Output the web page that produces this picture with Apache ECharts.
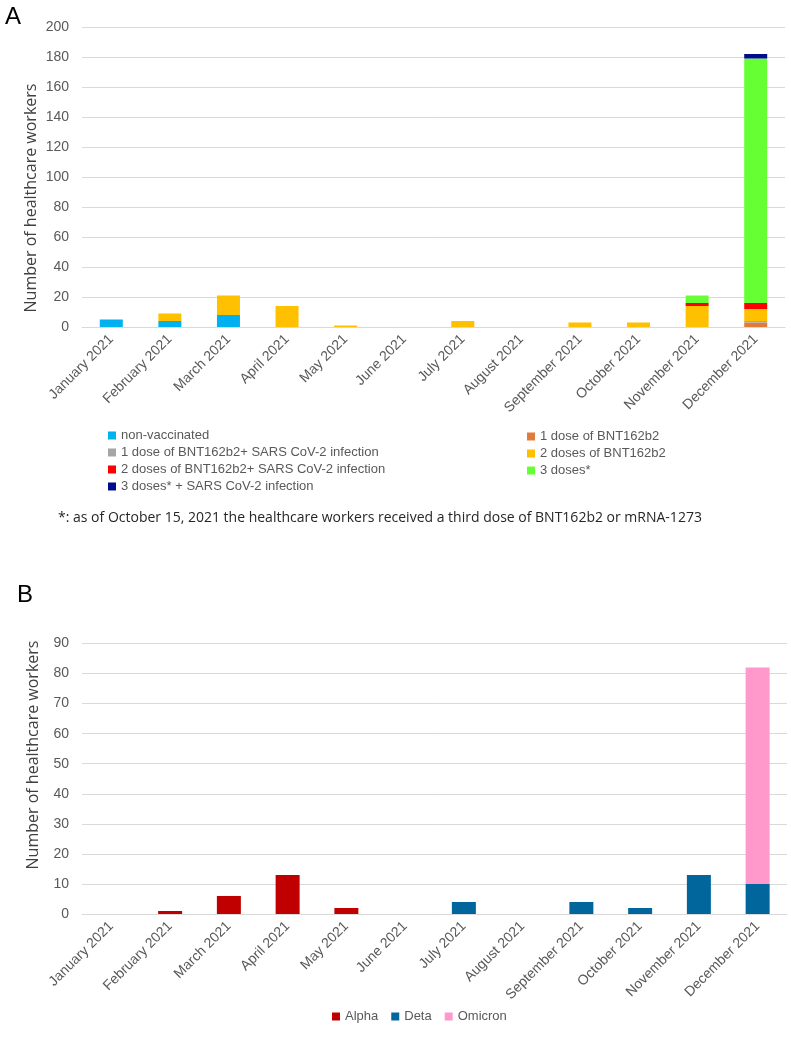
<!DOCTYPE html>
<html>
<head>
<meta charset="utf-8">
<title>Healthcare workers infections 2021</title>
<style>
  html, body { margin: 0; padding: 0; background: #fff; }
  #chart { width: 791px; height: 1039px; }
</style>
</head>
<body>
<div id="chart"></div>
<script src="https://cdn.jsdelivr.net/npm/echarts@6/dist/echarts.min.js"></script>
<script>
// months on both x axes
var months = ['January 2021', 'February 2021', 'March 2021', 'April 2021', 'May 2021', 'June 2021',
              'July 2021', 'August 2021', 'September 2021', 'October 2021', 'November 2021', 'December 2021'];

// panel A - vaccination status
var nonVaccinated   = [5, 4, 8, 0, 0, 0, 0, 0, 0, 0, 0, 0];
var oneDose         = [0, 0, 0, 0, 0, 0, 0, 0, 0, 0, 0, 3];
var oneDoseInf      = [0, 0, 0, 0, 0, 0, 0, 0, 0, 0, 0, 1];
var twoDoses        = [0, 5, 13, 14, 1, 0, 4, 0, 3, 3, 14, 8];
var twoDosesInf     = [0, 0, 0, 0, 0, 0, 0, 0, 0, 0, 2, 4];
var threeDoses      = [0, 0, 0, 0, 0, 0, 0, 0, 0, 0, 5, 163];
var threeDosesInf   = [0, 0, 0, 0, 0, 0, 0, 0, 0, 0, 0, 3];

// panel B - variants
var alpha   = [0, 1, 6, 13, 2, 0, 0, 0, 0, 0, 0, 0];
var deta    = [0, 0, 0, 0, 0, 0, 4, 0, 4, 2, 13, 10];
var omicron = [0, 0, 0, 0, 0, 0, 0, 0, 0, 0, 0, 72];

var namesA = ['non-vaccinated', '1 dose of BNT162b2', '1 dose of BNT162b2+ SARS CoV-2 infection',
              '2 doses of BNT162b2', '2 doses of BNT162b2+ SARS CoV-2 infection', '3 doses*',
              '3 doses* + SARS CoV-2 infection'];
var dataA = [nonVaccinated, oneDose, oneDoseInf, twoDoses, twoDosesInf, threeDoses, threeDosesInf];
var colorsA = ['#00B0F0', '#E07B3C', '#A5A5A5', '#FFC000', '#FF0000', '#66FF33', '#000C8C'];

var namesB = ['Alpha', 'Deta', 'Omicron'];
var dataB = [alpha, deta, omicron];
var colorsB = ['#C00000', '#00669B', '#FF99CC'];

var gridColor = '#d9d9d9';
var labelColor = '#595959';
var tickFont = 'Liberation Sans, sans-serif';

function xAxisFor(idx) {
    return {
        type: 'category',
        gridIndex: idx,
        data: months,
        axisTick: { show: false },
        axisLine: { lineStyle: { color: gridColor, width: 1 } },
        axisLabel: {
            interval: 0, rotate: 45, margin: 10,
            color: labelColor, fontSize: 14, fontFamily: tickFont
        }
    };
}
function yAxisFor(idx, max, step) {
    return {
        type: 'value',
        gridIndex: idx,
        min: 0, max: max, interval: step,
        axisLine: { show: false },
        axisTick: { show: false },
        splitLine: { lineStyle: { color: gridColor, width: 1 } },
        axisLabel: { color: labelColor, fontSize: 14, fontFamily: tickFont, margin: 13 }
    };
}

var series = [];
namesA.forEach(function (n, i) {
    series.push({
        name: n, type: 'bar', stack: 'a', xAxisIndex: 0, yAxisIndex: 0,
        barWidth: 23, itemStyle: { color: colorsA[i] }, data: dataA[i]
    });
});
namesB.forEach(function (n, i) {
    series.push({
        name: n, type: 'bar', stack: 'b', xAxisIndex: 1, yAxisIndex: 1,
        barWidth: 24, itemStyle: { color: colorsB[i] }, data: dataB[i]
    });
});

var legendText = { color: labelColor, fontSize: 13, fontFamily: tickFont, lineHeight: 12 };

var option = {
    animation: false,
    grid: [
        { left: 82, right: 6, top: 27, height: 300 },
        { left: 82, right: 4, top: 643.5, height: 270.5 }
    ],
    xAxis: [xAxisFor(0), xAxisFor(1)],
    yAxis: [yAxisFor(0, 200, 20), yAxisFor(1, 90, 10)],
    legend: [
        {
            orient: 'vertical', left: 103, top: 424, itemGap: 4,
            itemWidth: 8, itemHeight: 8, icon: 'rect', selectedMode: false,
            textStyle: legendText,
            data: [namesA[0], namesA[2], namesA[4], namesA[6]]
        },
        {
            orient: 'vertical', left: 522, top: 425, itemGap: 4,
            itemWidth: 8, itemHeight: 8, icon: 'rect', selectedMode: false,
            textStyle: legendText,
            data: [namesA[1], namesA[3], namesA[5]]
        },
        {
            orient: 'horizontal', left: 327, top: 1005, itemGap: 13,
            itemWidth: 8, itemHeight: 8, icon: 'rect', selectedMode: false,
            textStyle: legendText,
            data: namesB
        }
    ],
    graphic: [
        { type: 'text', left: 5, top: 5, style: { text: 'A', fontSize: 24, fill: '#000', fontFamily: 'Liberation Sans, sans-serif' } },
        { type: 'text', left: 17, top: 583, style: { text: 'B', fontSize: 24, fill: '#000', fontFamily: 'Liberation Sans, sans-serif' } },
        {
            type: 'text', x: 31, y: 198, rotation: Math.PI / 2,
            style: { text: 'Number of healthcare workers', fontSize: 16, fill: '#404040',
                     fontFamily: 'Open Sans, sans-serif', align: 'center', verticalAlign: 'middle' }
        },
        {
            type: 'text', x: 33, y: 755, rotation: Math.PI / 2,
            style: { text: 'Number of healthcare workers', fontSize: 16, fill: '#404040',
                     fontFamily: 'Open Sans, sans-serif', align: 'center', verticalAlign: 'middle' }
        },
        {
            type: 'text', left: 58, top: 511,
            style: { text: '*: as of October 15, 2021 the healthcare workers received a third dose of BNT162b2 or mRNA-1273',
                     fontSize: 14, fill: '#262626', fontFamily: 'Open Sans, sans-serif' }
        }
    ],
    series: series
};

var myChart = echarts.init(document.getElementById('chart'));
myChart.setOption(option);
</script>
</body>
</html>
